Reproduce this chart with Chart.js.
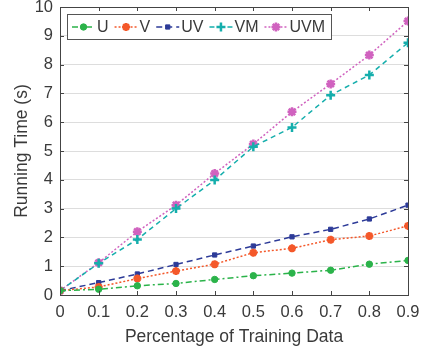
<!DOCTYPE html>
<html>
<head>
<meta charset="utf-8">
<script src="https://cdn.jsdelivr.net/npm/chart.js@4.4.0/dist/chart.umd.min.js"></script>
<style>
  html, body { margin: 0; padding: 0; background: #fff; }
  #wrap { width: 422px; height: 354px; }
</style>
</head>
<body>
<div id="wrap"><canvas id="timeChart" width="422" height="354"></canvas></div>
<script>
const xValues = [0, 0.1, 0.2, 0.3, 0.4, 0.5, 0.6, 0.7, 0.8, 0.9];
const xTickLabels = ["0", "0.1", "0.2", "0.3", "0.4", "0.5", "0.6", "0.7", "0.8", "0.9"];
const yTickLabels = ["0", "1", "2", "3", "4", "5", "6", "7", "8", "9", "10"];
const seriesNames = ["U", "V", "UV", "VM", "UVM"];
const uTimes = [0.15, 0.2, 0.32, 0.4, 0.54, 0.67, 0.76, 0.86, 1.07, 1.2];
const vTimes = [0.15, 0.28, 0.57, 0.83, 1.07, 1.47, 1.62, 1.92, 2.05, 2.4];
const uvTimes = [0.15, 0.43, 0.73, 1.06, 1.39, 1.7, 2.02, 2.28, 2.64, 3.12];
const vmTimes = [0.15, 1.1, 1.93, 3.0, 3.99, 5.15, 5.82, 6.94, 7.64, 8.76];
const uvmTimes = [0.15, 1.12, 2.2, 3.12, 4.22, 5.24, 6.36, 7.33, 8.33, 9.51];

const textColor = "#3a3a3a";
const axisColor = "#444444";
const fontFamily = "'Liberation Sans', Arial, sans-serif";

const toPoints = (ys) => ys.map((y, i) => ({ x: xValues[i], y: y }));

const makeSet = (name, ys, color, dash, style, fill, radius, bw) => ({
  label: name,
  data: toPoints(ys),
  borderColor: color,
  borderWidth: 1.5,
  borderDash: dash,
  pointStyle: style,
  pointRadius: radius,
  pointBackgroundColor: fill,
  pointBorderColor: color,
  pointBorderWidth: bw,
  tension: 0,
  fill: false,
});

const datasets = [
  makeSet(seriesNames[0], uTimes, "#2bb34a", [6, 3, 2, 3], "circle", "#2bb34a", 3.2, 1),
  makeSet(seriesNames[1], vTimes, "#f4582a", [2, 2], "star", "#f4582a", 4, 2.5),
  makeSet(seriesNames[2], uvTimes, "#2d3b98", [6, 4], "rect", "#2d3b98", 3, 1),
  makeSet(seriesNames[3], vmTimes, "#15aeac", [5, 4], "cross", "#15aeac", 4.5, 2.5),
  makeSet(seriesNames[4], uvmTimes, "#d062bf", [2, 2], "star", "#e0506a", 4.5, 2.5),
];

// box, inward ticks and the legend drawn over the plot
const framePlugin = {
  id: "frame",
  afterDraw(chart) {
    const ctx = chart.ctx;
    const a = chart.chartArea;
    const xs = chart.scales.x;
    const ys = chart.scales.y;
    ctx.save();
    ctx.strokeStyle = axisColor;
    ctx.lineWidth = 1;
    ctx.setLineDash([]);
    ctx.strokeRect(Math.round(a.left) + 0.5, Math.round(a.top) + 0.5,
      Math.round(a.right - a.left), Math.round(a.bottom - a.top));
    ctx.beginPath();
    xValues.forEach((v) => {
      const px = Math.round(xs.getPixelForValue(v)) + 0.5;
      ctx.moveTo(px, a.bottom);
      ctx.lineTo(px, a.bottom - 4);
      ctx.moveTo(px, a.top);
      ctx.lineTo(px, a.top + 4);
    });
    yTickLabels.forEach((t, i) => {
      const py = Math.round(ys.getPixelForValue(i)) + 0.5;
      ctx.moveTo(a.left, py);
      ctx.lineTo(a.left + 4, py);
      ctx.moveTo(a.right, py);
      ctx.lineTo(a.right - 4, py);
    });
    ctx.stroke();

    // legend
    ctx.font = "16px " + fontFamily;
    const sample = 23;
    let lw = 5;
    chart.data.datasets.forEach((ds) => {
      lw += sample + 2 + ctx.measureText(ds.label).width + 6;
    });
    const lx = a.left + 7, ly = a.top + 7, lh = 25;
    ctx.fillStyle = "#ffffff";
    ctx.fillRect(lx, ly, lw, lh);
    ctx.strokeStyle = "#555555";
    ctx.strokeRect(Math.round(lx) + 0.5, Math.round(ly) + 0.5, Math.round(lw), lh);
    ctx.textBaseline = "middle";
    let cx = lx + 5;
    const cy = ly + lh / 2 + 0.5;
    chart.data.datasets.forEach((ds) => {
      ctx.strokeStyle = ds.borderColor;
      ctx.lineWidth = ds.borderWidth;
      ctx.setLineDash(ds.borderDash);
      ctx.beginPath();
      ctx.moveTo(cx, cy);
      ctx.lineTo(cx + sample, cy);
      ctx.stroke();
      ctx.setLineDash([]);
      ctx.fillStyle = ds.pointBackgroundColor;
      ctx.strokeStyle = ds.pointBorderColor;
      ctx.lineWidth = ds.pointBorderWidth;
      Chart.helpers.drawPoint(ctx, {
        pointStyle: ds.pointStyle,
        radius: ds.pointRadius,
        rotation: 0,
        borderWidth: ds.pointBorderWidth,
      }, cx + sample / 2, cy);
      ctx.fillStyle = textColor;
      ctx.fillText(ds.label, cx + sample + 2, cy + 1);
      cx += sample + 2 + ctx.measureText(ds.label).width + 6;
    });
    ctx.restore();
  },
};

new Chart("timeChart", {
  type: "line",
  data: { datasets: datasets },
  options: {
    responsive: false,
    animation: false,
    layout: { padding: { top: 7, right: 14, left: 0, bottom: 0 } },
    plugins: { legend: { display: false }, tooltip: { enabled: false } },
    scales: {
      x: {
        type: "linear",
        min: 0,
        max: 0.9,
        afterFit: (s) => { s.height = 59; s.paddingLeft = 0; s.paddingRight = 0; },
        afterBuildTicks: (s) => { s.ticks = xValues.map((v) => ({ value: v })); },
        ticks: {
          callback: (v, i) => xTickLabels[i],
          color: textColor,
          font: { family: fontFamily, size: 16.5 },
          padding: 8,
          maxRotation: 0,
          autoSkip: false,
        },
        grid: { display: false, drawTicks: false },
        border: { display: false },
        title: {
          display: true,
          text: "Percentage of Training Data",
          color: textColor,
          font: { family: fontFamily, size: 17.5 },
          padding: { top: 0, bottom: 6 },
        },
      },
      y: {
        min: 0,
        max: 10,
        afterFit: (s) => { s.width = 60; s.paddingTop = 0; s.paddingBottom = 0; },
        ticks: {
          stepSize: 1,
          callback: (v) => yTickLabels[v],
          color: textColor,
          font: { family: fontFamily, size: 16.5 },
          padding: 7,
        },
        grid: { color: "#dddddd", drawTicks: false },
        border: { display: false },
        title: {
          display: true,
          text: "Running Time (s)",
          color: textColor,
          font: { family: fontFamily, size: 17.5 },
          padding: { top: 12, bottom: 0 },
        },
      },
    },
  },
  plugins: [framePlugin],
});
</script>
</body>
</html>
